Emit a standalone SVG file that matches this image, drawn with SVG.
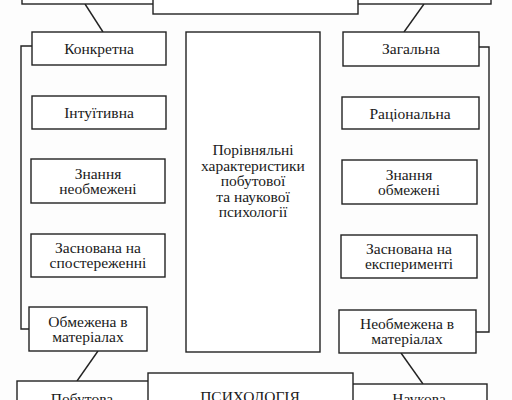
<svg xmlns="http://www.w3.org/2000/svg" width="512" height="400" viewBox="0 0 512 400">
<style>
.b{fill:#fff;stroke:#222;stroke-width:1.4}
.l{fill:none;stroke:#222;stroke-width:1.4}
text{font-family:"Liberation Serif","Times New Roman","DejaVu Serif",serif;font-size:15.5px;fill:#1a1a1a;text-anchor:middle}
</style>
<rect width="512" height="400" fill="#fdfdfd"/>
<g id="connectors">
<line class="l" x1="85" y1="4" x2="103" y2="32"/>
<line class="l" x1="424" y1="4" x2="404" y2="32"/>
<polyline class="l" points="32,46 21,46 21,329 29,329"/>
<polyline class="l" points="479,47 489,47 489,332 476,332"/>
<line class="l" x1="98" y1="351" x2="77" y2="381"/>
<line class="l" x1="401" y1="353" x2="423" y2="384"/>
</g>
<g id="top-left"><rect class="b" x="22" y="-40" width="140" height="44"/></g>
<g id="top-right"><rect class="b" x="350" y="-40" width="141" height="44"/></g>
<g id="top-middle"><rect class="b" x="153" y="-40" width="205" height="54"/></g>
<g id="konkretna"><rect class="b" x="32" y="32" width="134" height="33"/><text x="99" y="53.5">Конкретна</text></g>
<g id="intuityvna"><rect class="b" x="32" y="96" width="134" height="33"/><text x="99" y="118">Інтуїтивна</text></g>
<g id="znannia-neobm"><rect class="b" x="31" y="159" width="134" height="44"/><text x="98" y="178.5">Знання</text><text x="98" y="194">необмежені</text></g>
<g id="sposterezhenni"><rect class="b" x="31" y="234" width="134" height="43"/><text x="98" y="252.5">Заснована на</text><text x="98" y="268">спостереженні</text></g>
<g id="obmezhena"><rect class="b" x="29" y="307" width="118" height="44"/><text x="88" y="326.5">Обмежена в</text><text x="88" y="342">матеріалах</text></g>
<g id="center"><rect class="b" x="186" y="32" width="134" height="320"/>
<text x="253" y="155">Порівняльні</text><text x="253" y="170.5">характеристики</text><text x="253" y="186">побутової</text><text x="253" y="201.5">та наукової</text><text x="253" y="217">психології</text></g>
<g id="zagalna"><rect class="b" x="343" y="32" width="136" height="34"/><text x="411" y="54">Загальна</text></g>
<g id="ratsionalna"><rect class="b" x="342" y="97" width="137" height="32"/><text x="410" y="118.5">Раціональна</text></g>
<g id="znannia-obm"><rect class="b" x="342" y="160" width="135" height="44"/><text x="409" y="179.5">Знання</text><text x="409" y="195">обмежені</text></g>
<g id="eksperymenti"><rect class="b" x="341" y="235" width="136" height="43"/><text x="409" y="253.5">Заснована на</text><text x="409" y="269">експерименті</text></g>
<g id="neobmezhena"><rect class="b" x="339" y="310" width="137" height="43"/><text x="407" y="328.5">Необмежена в</text><text x="407" y="344">матеріалах</text></g>
<g id="pobutova"><rect class="b" x="17" y="381" width="140" height="40"/><text x="82" y="404">Побутова</text></g>
<g id="naukova"><rect class="b" x="345" y="384" width="142" height="40"/><text x="419" y="404">Наукова</text></g>
<g id="psykholohiia"><rect class="b" x="148" y="373" width="205" height="40"/><text x="250" y="401.5">ПСИХОЛОГІЯ</text></g>
</svg>
